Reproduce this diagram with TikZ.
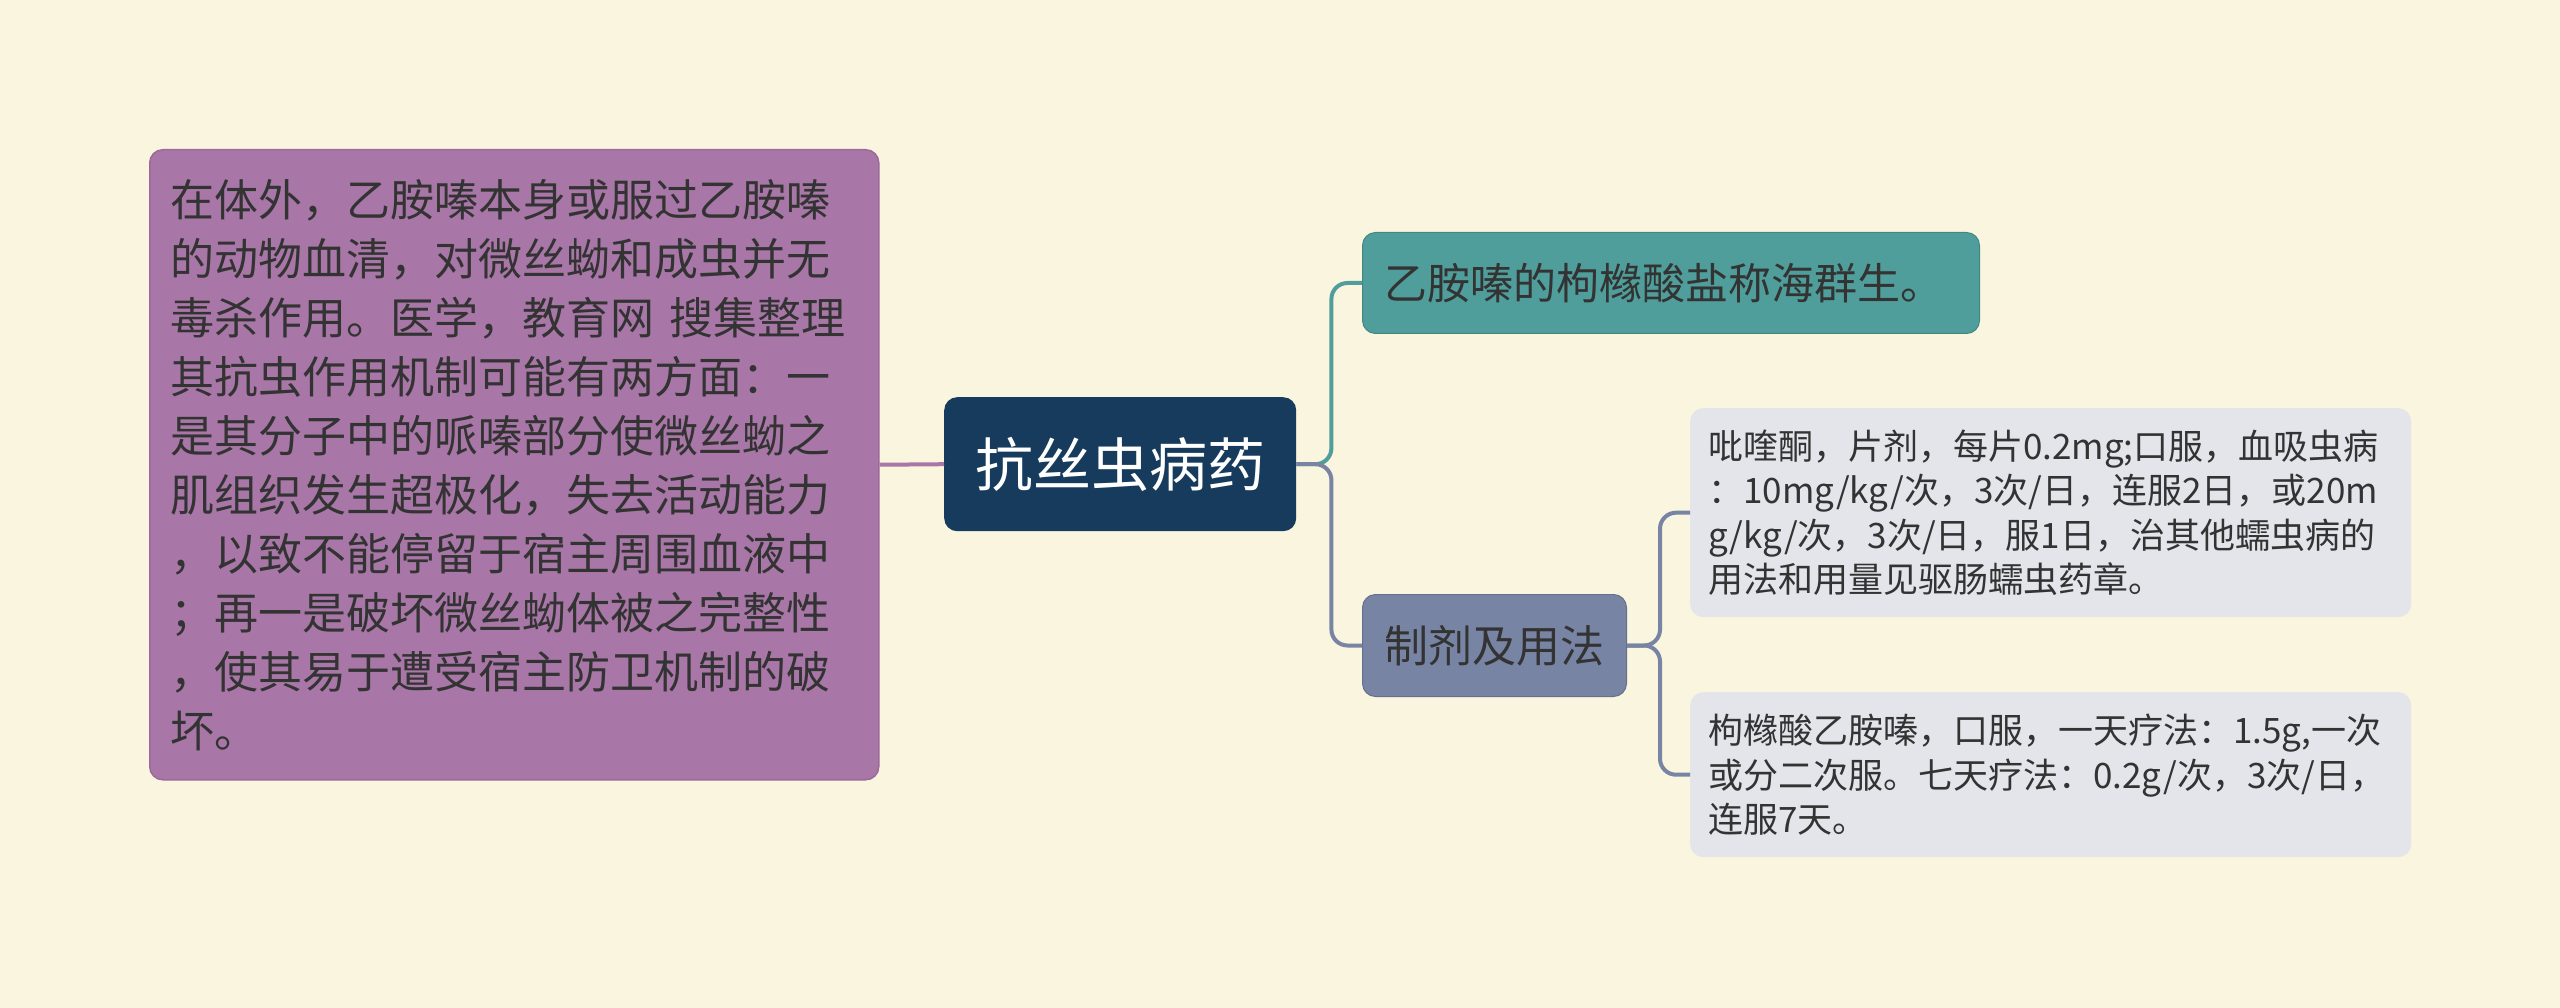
\documentclass[tikz,border=0pt]{standalone}
\usepackage{fontspec}
\setmainfont{Noto Sans CJK SC}
\definecolor{bgc}{HTML}{FAF5DF}
\definecolor{purp}{HTML}{A877A7}
\definecolor{purpd}{HTML}{9A6A99}
\definecolor{navy}{HTML}{163B5C}
\definecolor{teal}{HTML}{4F9E9B}
\definecolor{slate}{HTML}{7884A4}
\definecolor{light}{HTML}{E3E5EB}
\definecolor{txt}{HTML}{333333}
\tikzset{
  box/.style={rounded corners=13pt, inner sep=0pt, anchor=north west, text=txt},
  conn/.style={line width=4pt, rounded corners=16pt},
}
\begin{document}
\begin{tikzpicture}[x=1pt,y=-1pt]
\useasboundingbox (0,0) rectangle (2560,1008);
\fill[bgc] (0,0) rectangle (2560,1008);

\node[box, fill=purp, draw=purpd, line width=1.5pt, minimum width=729pt, minimum height=630pt,
  text width=687pt, align=left, font=\fontsize{44}{59}\selectfont] (left) at (149,149)
  {在体外，乙胺嗪本身或服过乙胺嗪\\的动物血清，对微丝蚴和成虫并无\\毒杀作用。医学，教育网 搜集整理\\其抗虫作用机制可能有两方面：一\\是其分子中的哌嗪部分使微丝蚴之\\肌组织发生超极化，失去活动能力\\，以致不能停留于宿主周围血液中\\；再一是破坏微丝蚴体被之完整性\\，使其易于遭受宿主防卫机制的破\\坏。};

\node[box, fill=navy, text=white, minimum width=352pt, minimum height=134pt,
  font=\fontsize{58}{70}\selectfont] (root) at (944,397) {抗丝虫病药};

\node[box, fill=teal, draw=teal!85!black, line width=1pt, minimum width=617pt, minimum height=101pt,
  text width=573pt, align=left, font=\fontsize{43}{52}\selectfont] (top) at (1362,232)
  {乙胺嗪的枸橼酸盐称海群生。};

\node[box, fill=slate, draw=slate!85!black, line width=1pt, minimum width=264pt, minimum height=102pt,
  font=\fontsize{44}{52}\selectfont] (prep) at (1362,594) {制剂及用法};

\node[box, fill=light, minimum width=721pt, minimum height=209pt,
  text width=685pt, align=left, font=\fontsize{35}{44.6}\selectfont] (r1) at (1690,408)
  {吡喹酮，片剂，每片0.2mg;口服，血吸虫病\\：10mg/kg/次，3次/日，连服2日，或20m\\g/kg/次，3次/日，服1日，治其他蠕虫病的\\用法和用量见驱肠蠕虫药章。};

\node[box, fill=light, minimum width=721pt, minimum height=165pt,
  text width=685pt, align=left, font=\fontsize{35}{44.6}\selectfont] (r2) at (1690,692)
  {枸橼酸乙胺嗪，口服，一天疗法：1.5g,一次\\或分二次服。七天疗法：0.2g/次，3次/日，\\连服7天。};

\draw[conn, purp] (left.east) -- (root.west);
\draw[conn, teal] (root.east) -- ++(35,0) |- (top.west);
\draw[conn, slate] (root.east) -- ++(35,0) |- (prep.west);
\draw[conn, slate] (prep.east) -- ++(33,0) |- (r1.west);
\draw[conn, slate] (prep.east) -- ++(33,0) |- (r2.west);
\end{tikzpicture}
\end{document}
